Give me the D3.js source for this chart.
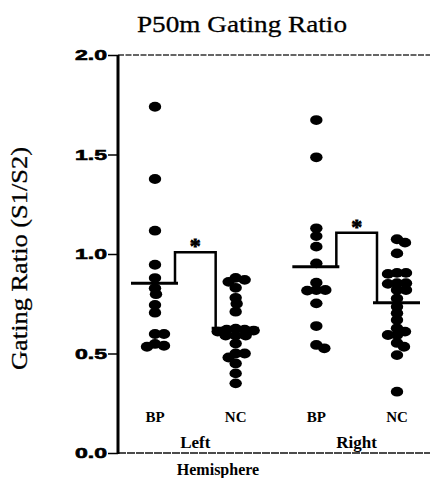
<!DOCTYPE html>
<html><head><meta charset="utf-8">
<script src="https://cdn.jsdelivr.net/npm/d3@7"></script>
<style>body{margin:0;background:#fff}svg{display:block}</style>
</head><body><svg id="c" width="430" height="478"></svg>
<script>
// ---- data ----
const categories = ["BP", "NC", "BP", "NC"];
const hemispheres = ["Left", "Right"];
const leftBP  = [1.74, 1.377, 1.117, 0.946, 0.879, 0.828, 0.798, 0.744, 0.705, 0.598, 0.598, 0.548, 0.539, 0.534];
const leftNC  = [0.88, 0.87, 0.86, 0.83, 0.78, 0.75, 0.71, 0.625, 0.62, 0.62, 0.615, 0.61, 0.59, 0.59, 0.59, 0.55, 0.50, 0.50, 0.48, 0.45, 0.40, 0.35];
const rightBP = [1.673, 1.486, 1.129, 1.09, 1.037, 0.953, 0.856, 0.819, 0.819, 0.816, 0.752, 0.638, 0.543, 0.526];
const rightNC = [1.074, 1.057, 1.003, 0.905, 0.905, 0.9, 0.853, 0.853, 0.85, 0.819, 0.819, 0.777, 0.735, 0.702, 0.668, 0.627, 0.61, 0.593, 0.593, 0.553, 0.534, 0.492, 0.308];
const groupMeans = [0.853, 0.627, 0.936, 0.755];
const bracketTops = [1.009, 1.107];
const yTicks = [0, 0.5, 1.0, 1.5, 2.0];
const yTickLabels = ["0.0", "0.5", "1.0", "1.5", "2.0"];
const titleText = "P50m Gating Ratio";
const yTitle = "Gating Ratio (S1/S2)";
const xTitle = "Hemisphere";

const groups = [leftBP, leftNC, rightBP, rightNC];

// ---- layout ----
const svg = d3.select("#c");
const y = d3.scaleLinear().domain([0, 2]).range([453, 55]);
const x = d3.scalePoint().domain(d3.range(categories.length)).range([155, 397]);
const axisX = 118, rightEdge = 430;
const serif = "'Liberation Serif','Times New Roman',serif";

// frame
svg.append("line").attr("x1", axisX).attr("x2", rightEdge).attr("y1", y(2)).attr("y2", y(2))
  .attr("stroke", "#333").attr("stroke-width", 1.4).attr("stroke-dasharray", "6,1.5");
svg.append("line").attr("x1", axisX).attr("x2", rightEdge).attr("y1", y(0)).attr("y2", y(0))
  .attr("stroke", "#111").attr("stroke-width", 1.6).attr("stroke-dasharray", "8,1");

const yAxis = d3.axisLeft(y).tickValues(yTicks).tickSize(10).tickPadding(1)
  .tickFormat((d, i) => yTickLabels[i]);
const ga = svg.append("g").attr("transform", `translate(${axisX},0)`).call(yAxis);
ga.select(".domain").remove();
ga.selectAll(".tick line").attr("stroke", "#000").attr("stroke-width", 1.5);
ga.selectAll(".tick text")
  .attr("font-family", "'Liberation Sans',Arial,sans-serif").attr("font-weight", "bold")
  .attr("font-size", 15).attr("fill", "#000").attr("stroke", "#000").attr("stroke-width", 0.6)
  .attr("textLength", 32).attr("lengthAdjust", "spacingAndGlyphs");
svg.append("line").attr("x1", axisX).attr("x2", axisX).attr("y1", y(2)).attr("y2", y(0) + 1)
  .attr("stroke", "#000").attr("stroke-width", 3);

// swarm placement
function swarm(values, cx) {
  const W = 9, H = 6;
  const placed = [];
  values.slice().sort((a, b) => b - a).forEach(v => {
    const py = y(v);
    let best = 0;
    outer: for (let k = 0; k < 80; k++) {
      const cands = k === 0 ? [0] : [k, -k];
      for (const o of cands) {
        if (placed.every(p => { const dx = (o - p.o) / W, dy = (py - p.y) / H; return dx * dx + dy * dy >= 1; })) {
          best = o; break outer;
        }
      }
    }
    placed.push({ o: best, y: py });
  });
  return placed.map(p => ({ cx: cx + p.o, cy: p.y }));
}

groups.forEach((vals, i) => {
  svg.append("g").selectAll("ellipse").data(swarm(vals, x(i))).join("ellipse")
    .attr("cx", d => d.cx).attr("cy", d => d.cy).attr("rx", 6.2).attr("ry", 4.9).attr("fill", "#000");
});

// mean lines
groupMeans.forEach((m, i) => {
  svg.append("line").attr("x1", x(i) - 24).attr("x2", x(i) + 23).attr("y1", y(m)).attr("y2", y(m))
    .attr("stroke", "#000").attr("stroke-width", 3);
});

// brackets + stars
bracketTops.forEach((t, h) => {
  const a = 2 * h, b = 2 * h + 1;
  const x1 = x(a) + 20, x2 = x(b) - 20;
  svg.append("path")
    .attr("d", `M${x1},${y(groupMeans[a])}V${y(t)}H${x2}V${y(groupMeans[b])}`)
    .attr("fill", "none").attr("stroke", "#000").attr("stroke-width", 2.5);
  svg.append("text").attr("x", (x1 + x2) / 2).attr("y", y(t) + 1)
    .attr("text-anchor", "middle").attr("font-family", serif).attr("font-weight", "bold")
    .attr("font-size", 22).attr("stroke", "#000").attr("stroke-width", 0.8).text("*");
});

// category labels
categories.forEach((c, i) => {
  svg.append("text").attr("x", x(i)).attr("y", 422).attr("text-anchor", "middle")
    .attr("font-family", serif).attr("font-weight", "bold").attr("font-size", 15).text(c);
});
hemispheres.forEach((h, k) => {
  svg.append("text").attr("x", (x(2 * k) + x(2 * k + 1)) / 2).attr("y", 448).attr("text-anchor", "middle")
    .attr("font-family", serif).attr("font-weight", "bold").attr("font-size", 17).text(h);
});
svg.append("text").attr("x", 218).attr("y", 475).attr("text-anchor", "middle")
  .attr("font-family", serif).attr("font-weight", "bold").attr("font-size", 16).text(xTitle);

// titles
svg.append("text").attr("x", 242).attr("y", 32).attr("text-anchor", "middle")
  .attr("font-family", serif).attr("font-size", 24).attr("stroke", "#000").attr("stroke-width", 0.3)
  .attr("textLength", 210).attr("lengthAdjust", "spacingAndGlyphs").text(titleText);
svg.append("text").attr("transform", "translate(27,258.5) rotate(-90)").attr("text-anchor", "middle")
  .attr("font-family", serif).attr("font-size", 24).attr("stroke", "#000").attr("stroke-width", 0.3)
  .attr("textLength", 223).attr("lengthAdjust", "spacingAndGlyphs").text(yTitle);
</script>
</body></html>
